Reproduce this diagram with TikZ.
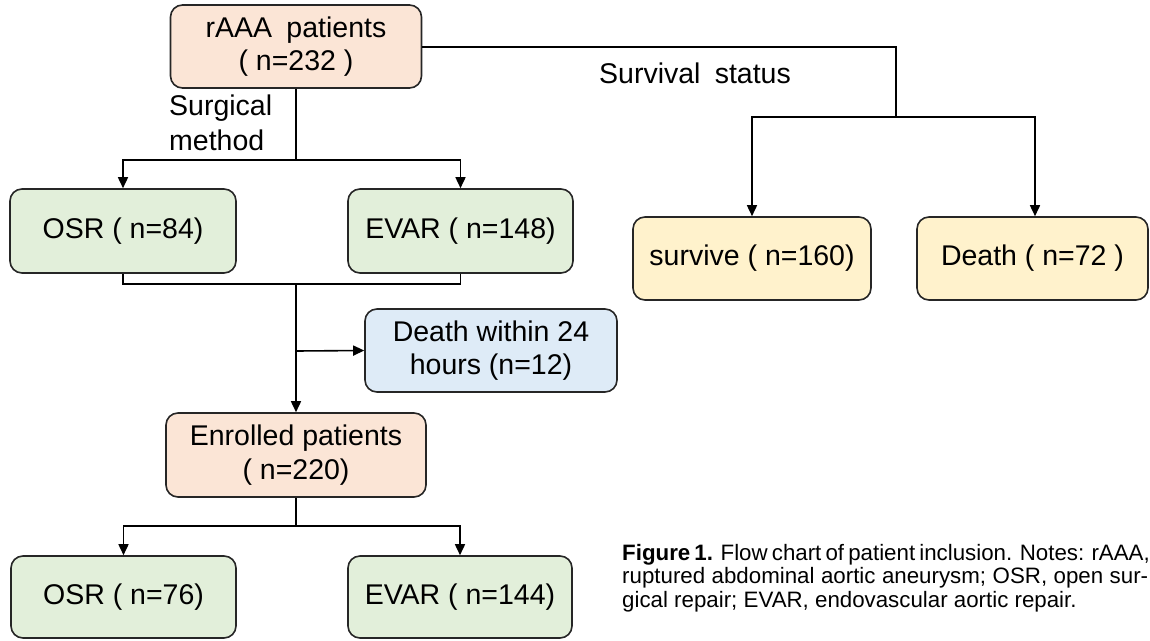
\documentclass[tikz,border=0pt]{standalone}
\usepackage{fontspec}
\setmainfont{Liberation Sans}
\usetikzlibrary{arrows.meta}
\definecolor{peach}{HTML}{FBE5D6}
\definecolor{greenbox}{HTML}{E2EFDA}
\definecolor{bluebox}{HTML}{DEEBF7}
\definecolor{yellowbox}{HTML}{FFF2CC}
\definecolor{edge}{HTML}{262626}
\tikzset{
  box/.style={draw=edge, line width=1.6pt, rounded corners=12pt, align=center,
    inner sep=2pt, font=\fontsize{28.5}{33.5}\selectfont},
  conn/.style={draw=black, line width=1.6pt},
  arr/.style={conn, -{Triangle[length=11pt,width=10pt]}},
  lbl/.style={font=\fontsize{28.5}{35}\selectfont, inner sep=0pt}
}
\begin{document}
\begin{tikzpicture}[x=1pt,y=-1pt]
\useasboundingbox[fill=white] (0,0) rectangle (1150,640);
% nodes
\node[box, fill=peach, minimum width=251pt, minimum height=83pt] (raaa) at (296,46.5) {rAAA\enspace patients\\( n=232 )};
\node[box, fill=greenbox, minimum width=226pt, minimum height=84pt] (osr1) at (123,231) {OSR ( n=84)};
\node[box, fill=greenbox, minimum width=225pt, minimum height=84pt] (evar1) at (460.5,231) {EVAR ( n=148)};
\node[box, fill=yellowbox, minimum width=238pt, minimum height=83pt] (surv) at (752,258.5) {survive ( n=160)};
\node[box, fill=yellowbox, minimum width=231pt, minimum height=83pt] (death) at (1032.5,258.5) {Death ( n=72 )};
\node[box, fill=bluebox, minimum width=252pt, minimum height=83pt] (d24) at (491,350.5) {Death within 24\\hours (n=12)};
\node[box, fill=peach, minimum width=260pt, minimum height=84pt] (enr) at (296,455) {Enrolled patients\\( n=220)};
\node[box, fill=greenbox, minimum width=225pt, minimum height=82pt] (osr2) at (123.5,597) {OSR ( n=76)};
\node[box, fill=greenbox, minimum width=224pt, minimum height=82pt] (evar2) at (460,597) {EVAR ( n=144)};
% labels
\node[lbl, anchor=west, align=left] (surg) at (169,122.5) {Surgical\\method};
\node[lbl] (sstat) at (695,73) {Survival\enspace status};
% junction coordinates
\coordinate (j1) at (296,160);
\coordinate (j2) at (296,284);
\coordinate (j3) at (296,351);
\coordinate (j4) at (296,526);
\coordinate (r1) at (896,47);
\coordinate (r2) at (896,117);
% surgical method branch
\draw[conn] (raaa.south) -- (j1);
\draw[arr] (j1) -| (osr1.north);
\draw[arr] (j1) -| (evar1.north);
% survival status branch
\draw[conn] (raaa.east |- r1) -- (r1) -- (r2);
\draw[arr] (r2) -| (surv.north);
\draw[arr] (r2) -| ([xshift=2.5pt]death.north);
% merge to enrolled
\draw[conn] (osr1.south) |- (j2);
\draw[conn] (evar1.south) |- (j2);
\draw[arr] (j2) -- (enr.north);
\draw[arr] (j3) -- (d24.west);
% enrolled split
\draw[conn] (enr.south) -- (j4);
\draw[arr] (j4) -| (osr2.north);
\draw[arr] (j4) -| (evar2.north);
% caption
\node[anchor=north west, inner sep=0pt, align=left, font=\fontsize{22.3}{23.5}\selectfont] (cap) at (622,544)
 {\makebox[526pt][s]{\textbf{Figure 1.} Flow chart of patient inclusion. Notes: rAAA,}\\
  \makebox[526pt][s]{ruptured abdominal aortic aneurysm; OSR, open sur-}\\
  gical repair; EVAR, endovascular aortic repair.};
\end{tikzpicture}
\end{document}
